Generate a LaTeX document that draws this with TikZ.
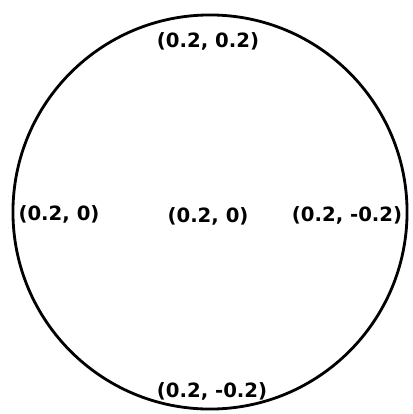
\documentclass[tikz,border=0pt]{standalone}
\usepackage{fontspec}
\setmainfont{DejaVu Sans}
\usetikzlibrary{positioning}

\begin{document}
\begin{tikzpicture}[
  x=0.025cm, y=-0.025cm,
  disk/.style={circle, draw=black, line width=2pt, minimum size=9.85cm, inner sep=0pt},
  lbl/.style={font=\fontsize{14}{16}\selectfont\bfseries, text=black, inner sep=1pt}
]
  \useasboundingbox (0,0) rectangle (413,414);
  \node[disk] (ball) at (210,212) {};
  \node[lbl] (top)    at (208,41)  {(0.2, 0.2)};
  \node[lbl] (left)   at (59,214)  {(0.2, 0)};
  \node[lbl] (centre) at (208,216) {(0.2, 0)};
  \node[lbl] (right)  at (347,215) {(0.2, -0.2)};
  \node[lbl] (bottom) at (212,391) {(0.2, -0.2)};
\end{tikzpicture}
\end{document}
